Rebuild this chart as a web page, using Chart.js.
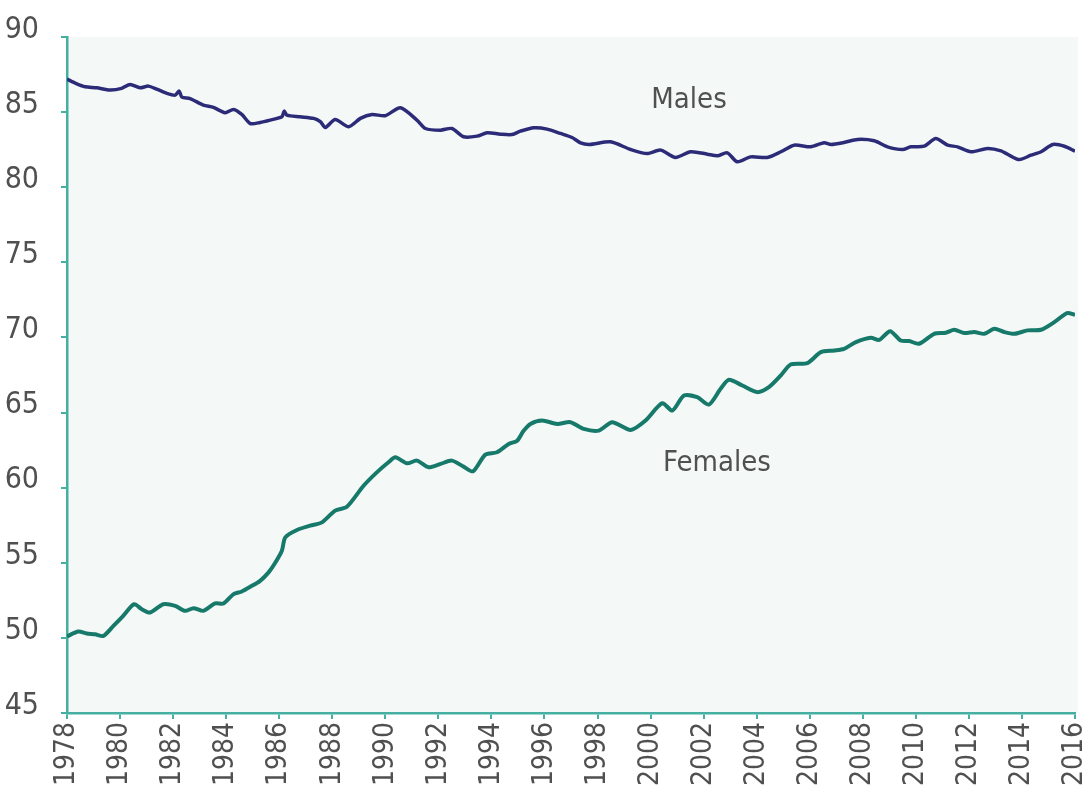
<!DOCTYPE html>
<html>
<head>
<meta charset="utf-8">
<script src="https://cdn.jsdelivr.net/npm/chart.js@4.4.1/dist/chart.umd.min.js"></script>
<style>
  html, body { margin: 0; padding: 0; background: #ffffff; }
  #wrap { width: 1092px; height: 793px; }
</style>
</head>
<body>
<div id="wrap"><canvas id="c" width="1092" height="793"></canvas></div>
<script>
const xTickYears = [1978,1980,1982,1984,1986,1988,1990,1992,1994,1996,1998,2000,2002,2004,2006,2008,2010,2012,2014,2016];
const yTickValues = [45,50,55,60,65,70,75,80,85,90];

const maleYears = [1978.0,1978.35,1978.68,1979.12,1979.62,1980.06,1980.38,1980.75,1981.07,1981.38,1981.76,1982.08,1982.23,1982.33,1982.64,1983.14,1983.52,1983.96,1984.28,1984.59,1984.91,1985.28,1985.66,1986.1,1986.19,1986.29,1986.79,1987.3,1987.55,1987.74,1988.11,1988.62,1989.06,1989.5,1990.0,1990.57,1991.19,1991.51,1992.08,1992.51,1992.95,1993.46,1993.84,1994.34,1994.78,1995.09,1995.6,1996.1,1996.6,1997.04,1997.36,1997.7,1998.49,1999.25,1999.87,2000.38,2000.94,2001.51,2002.14,2002.52,2002.89,2003.27,2003.77,2004.4,2004.91,2005.41,2006.04,2006.54,2006.8,2007.29,2007.8,2008.43,2008.93,2009.5,2009.81,2010.31,2010.75,2011.2,2011.57,2012.08,2012.7,2013.21,2013.58,2013.9,2014.34,2014.72,2015.16,2015.6,2016.0];
const maleValues = [87.2,86.9,86.69,86.62,86.47,86.58,86.84,86.62,86.73,86.53,86.25,86.13,86.4,86.0,85.9,85.47,85.31,84.96,85.18,84.85,84.24,84.31,84.47,84.69,85.07,84.8,84.69,84.58,84.36,83.98,84.51,84.02,84.58,84.84,84.76,85.29,84.47,83.91,83.8,83.91,83.36,83.4,83.62,83.53,83.51,83.73,83.96,83.87,83.58,83.31,82.95,82.85,83.02,82.51,82.24,82.47,81.98,82.36,82.2,82.09,82.29,81.69,82.02,81.98,82.36,82.8,82.69,82.96,82.85,82.98,83.18,83.09,82.69,82.51,82.69,82.73,83.24,82.8,82.69,82.36,82.58,82.42,82.07,81.84,82.13,82.36,82.84,82.73,82.4];

const femaleYears = [1978.0,1978.43,1978.74,1979.06,1979.37,1979.75,1980.12,1980.53,1980.82,1981.13,1981.63,1982.08,1982.45,1982.77,1983.14,1983.58,1983.9,1984.28,1984.59,1984.91,1985.28,1985.6,1985.85,1986.1,1986.23,1986.67,1987.17,1987.61,1988.11,1988.55,1989.18,1989.68,1990.12,1990.38,1990.82,1991.19,1991.63,1992.08,1992.51,1992.95,1993.31,1993.77,1994.21,1994.65,1994.97,1995.2,1995.47,1995.91,1996.48,1996.98,1997.48,1998.05,1998.55,1999.25,1999.81,2000.44,2000.82,2001.26,2001.76,2002.2,2002.64,2002.95,2003.46,2004.02,2004.46,2004.91,2005.28,2005.91,2006.42,2006.92,2007.29,2007.74,2008.3,2008.62,2009.03,2009.43,2009.75,2010.12,2010.69,2011.13,2011.45,2011.83,2012.2,2012.58,2012.96,2013.33,2013.71,2014.21,2014.72,2015.22,2015.7,2016.0];
const femaleValues = [50.1,50.42,50.29,50.24,50.13,50.8,51.47,52.24,51.91,51.69,52.24,52.13,51.8,51.98,51.8,52.29,52.29,52.91,53.09,53.4,53.8,54.36,55.0,55.8,56.69,57.18,57.47,57.69,58.47,58.73,60.13,61.02,61.69,62.02,61.62,61.8,61.36,61.58,61.8,61.4,61.09,62.2,62.36,62.91,63.13,63.75,64.24,64.47,64.24,64.36,63.91,63.8,64.36,63.84,64.47,65.62,65.13,66.13,66.02,65.53,66.58,67.18,66.8,66.36,66.69,67.47,68.2,68.29,69.02,69.13,69.24,69.69,69.98,69.84,70.42,69.8,69.76,69.58,70.24,70.31,70.51,70.29,70.36,70.24,70.58,70.36,70.24,70.47,70.51,71.02,71.62,71.5];

const seriesNames = ['Males', 'Females'];
const labelAnchors = [[2001.45, 85.8], [2002.5, 61.6]];

const FONT = "'Liberation Sans Narrow', 'Arial Narrow', 'DejaVu Sans Condensed', sans-serif";
const AXIS_COLOR = '#45b0a1';
const TEXT_COLOR = '#505050';

const bgPlugin = {
  id: 'plotBg',
  beforeDraw(chart) {
    const {ctx, chartArea: a} = chart;
    ctx.save();
    ctx.fillStyle = '#f4f9f8';
    ctx.fillRect(a.left, a.top, a.right - a.left + 3, a.bottom - a.top);
    ctx.restore();
  }
};

const seriesLabelPlugin = {
  id: 'seriesLabels',
  afterDatasetsDraw(chart) {
    const {ctx, scales} = chart;
    ctx.save();
    ctx.font = '29px ' + FONT;
    ctx.fillStyle = TEXT_COLOR;
    ctx.textAlign = 'center';
    ctx.textBaseline = 'middle';
    seriesNames.forEach((name, i) => {
      const px = scales.x.getPixelForValue(labelAnchors[i][0]);
      const py = scales.y.getPixelForValue(labelAnchors[i][1]);
      ctx.fillText(name, px, py);
    });
    ctx.restore();
  }
};

const toPoints = (xs, ys) => xs.map((x, i) => ({x: x, y: ys[i]}));

new Chart(document.getElementById('c'), {
  type: 'line',
  data: {
    datasets: [
      {
        label: seriesNames[0],
        data: toPoints(maleYears, maleValues),
        borderColor: '#2c2b78',
        borderWidth: 3.5,
        pointRadius: 0,
        tension: 0.25,
        fill: false
      },
      {
        label: seriesNames[1],
        data: toPoints(femaleYears, femaleValues),
        borderColor: '#17796a',
        borderWidth: 4,
        pointRadius: 0,
        tension: 0.25,
        fill: false
      }
    ]
  },
  options: {
    responsive: false,
    animation: false,
    devicePixelRatio: 1,
    layout: { padding: { top: 37, right: 17, left: 0, bottom: 0 } },
    plugins: { legend: { display: false }, tooltip: { enabled: false } },
    scales: {
      x: {
        type: 'linear',
        min: 1978,
        max: 2016,
        afterBuildTicks(scale) { scale.ticks = xTickYears.map(v => ({value: v})); },
        afterFit(scale) { scale.height = 80; scale.paddingLeft = 0; scale.paddingRight = 0; },
        border: { color: AXIS_COLOR, width: 2.5 },
        grid: { drawOnChartArea: false, drawTicks: true, tickLength: 6, color: AXIS_COLOR, lineWidth: 2 },
        ticks: {
          minRotation: 90, maxRotation: 90, autoSkip: false, padding: 3,
          color: TEXT_COLOR,
          font: { family: FONT, size: 28 },
          callback: v => String(v)
        }
      },
      y: {
        type: 'linear',
        min: 45,
        max: 90,
        afterBuildTicks(scale) { scale.ticks = yTickValues.map(v => ({value: v})); },
        afterFit(scale) { scale.width = 67; scale.paddingTop = 0; scale.paddingBottom = 0; },
        border: { color: AXIS_COLOR, width: 2.5 },
        grid: { drawOnChartArea: false, drawTicks: true, tickLength: 6, color: AXIS_COLOR, lineWidth: 2 },
        ticks: {
          padding: 22, labelOffset: -7,
          color: TEXT_COLOR,
          font: { family: FONT, size: 30 },
          callback: v => String(v)
        }
      }
    }
  },
  plugins: [bgPlugin, seriesLabelPlugin]
});
</script>
</body>
</html>
